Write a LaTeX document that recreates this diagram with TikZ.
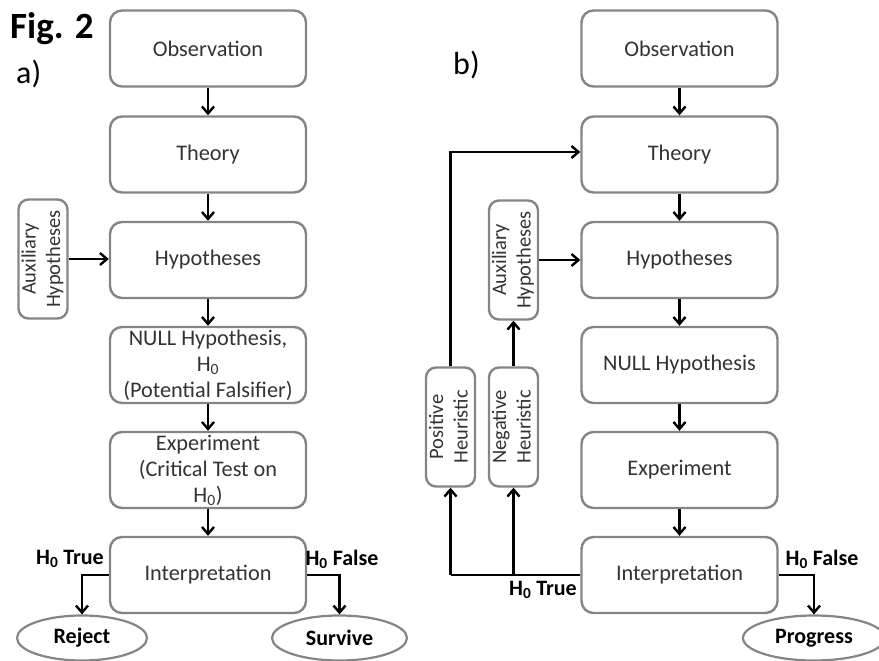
\documentclass[tikz,border=0pt]{standalone}
\usepackage{fontspec}
\setmainfont{Carlito}
\usetikzlibrary{arrows.meta,shapes.geometric}
\definecolor{boxgray}{HTML}{858585}
\definecolor{textgray}{HTML}{333333}
\tikzset{
  stagebox/.style={draw=boxgray, line width=2.4pt, rounded corners=12pt,
    minimum width=196pt, minimum height=76pt, align=center, inner sep=1pt,
    text=textgray, font=\fontsize{22.3}{26}\selectfont},
  sidebox/.style={draw=boxgray, line width=2.4pt, rounded corners=10pt,
    minimum width=49pt, minimum height=119pt, inner sep=0pt,
    text=textgray, font=\fontsize{20.5}{24.5}\selectfont},
  outcome/.style={draw=boxgray, line width=2.2pt, ellipse, minimum width=130pt,
    minimum height=45pt, inner sep=0pt, font=\bfseries\fontsize{22}{26}\selectfont},
  lbl/.style={font=\bfseries\fontsize{22}{26}\selectfont, inner sep=0pt},
  arr/.style={line width=2.6pt, -{Straight Barb[length=7pt,width=12pt,line width=2.4pt]}},
  ln/.style={line width=2.6pt},
}
\newcommand{\hz}{H\textsubscript{0}}
\newcommand{\vtext}[2]{\rotatebox{90}{\begin{tabular}{@{}c@{}}#1\\#2\end{tabular}}}
\begin{document}
\begin{tikzpicture}[x=1pt,y=-1pt]
\useasboundingbox (0,0) rectangle (879,661);
% titles
\node[anchor=base west, inner sep=0pt, font=\bfseries\fontsize{37}{40}\selectfont] (fig) at (10,39) {Fig. 2};
\node[anchor=base west, inner sep=0pt, font=\fontsize{32}{36}\selectfont] (la) at (16,84) {a)};
\node[anchor=base west, inner sep=0pt, font=\fontsize{32}{36}\selectfont] (lb) at (453,75) {b)};

% left column
\node[stagebox] (obsL) at (208,48.5) {Observation};
\node[stagebox] (theL) at (208,154.5) {Theory};
\node[stagebox] (hypL) at (208,260) {Hypotheses};
\node[stagebox] (nulL) at (208,365) {NULL Hypothesis,\\ \hz\\ (Potential Falsifier)};
\node[stagebox] (expL) at (208,470) {Experiment\\ (Critical Test on\\ \hz)};
\node[stagebox] (intL) at (208,575) {Interpretation};
\node[sidebox] (auxL) at (43,259) {\vtext{Auxiliary}{Hypotheses}};
\node[outcome] (rej) at (82,638) {Reject};
\node[outcome, minimum width=135pt] (sur) at (339.5,638) {Survive};
\node[lbl] (tL) at (70,559) {\hz\ True};
\node[lbl] (fL) at (342,559) {\hz\ False};

\draw[arr] (obsL) -- (theL);
\draw[arr] (theL) -- (hypL);
\draw[arr] (hypL) -- (nulL);
\draw[arr] (nulL) -- (expL);
\draw[arr] (expL) -- (intL);
\draw[arr] (auxL.east) -- (auxL.east -| hypL.west);
\draw[arr] (intL.west) -| (rej.north);
\draw[arr] (intL.east) -| (sur.north);

% right column
\node[stagebox] (obsR) at (679.5,48.5) {Observation};
\node[stagebox] (theR) at (679.5,154.5) {Theory};
\node[stagebox] (hypR) at (679.5,260) {Hypotheses};
\node[stagebox] (nulR) at (679.5,365) {NULL Hypothesis};
\node[stagebox] (expR) at (679.5,470) {Experiment};
\node[stagebox] (intR) at (679.5,575) {Interpretation};
\node[sidebox] (auxR) at (513.5,260) {\vtext{Auxiliary}{Hypotheses}};
\node[sidebox] (pos) at (450.5,427) {\vtext{Positive}{Heuristic}};
\node[sidebox] (neg) at (513.5,427) {\vtext{Negative}{Heuristic}};
\node[outcome, minimum width=142pt] (pro) at (814,638) {Progress};
\node[lbl] (tR) at (543,590) {\hz\ True};
\node[lbl] (fR) at (822,559) {\hz\ False};

\draw[arr] (obsR) -- (theR);
\draw[arr] (theR) -- (hypR);
\draw[arr] (hypR) -- (nulR);
\draw[arr] (nulR) -- (expR);
\draw[arr] (expR) -- (intR);
\draw[arr] (auxR.east) -- (auxR.east -| hypR.west);
\draw[arr] (neg.north) -- (auxR.south);
\coordinate (pc) at (pos.north |- 0,152);
\draw[arr] (pos.north) -- (pc) -- (pc -| theR.west);
\coordinate (tj) at (pos.south |- intR.west);
\draw[ln] (intR.west) -- (tj);
\draw[arr] (tj) -- (pos.south);
\draw[arr] (neg.south |- intR.west) -- (neg.south);
\draw[arr] (intR.east) -| (pro.north);
\end{tikzpicture}
\end{document}
